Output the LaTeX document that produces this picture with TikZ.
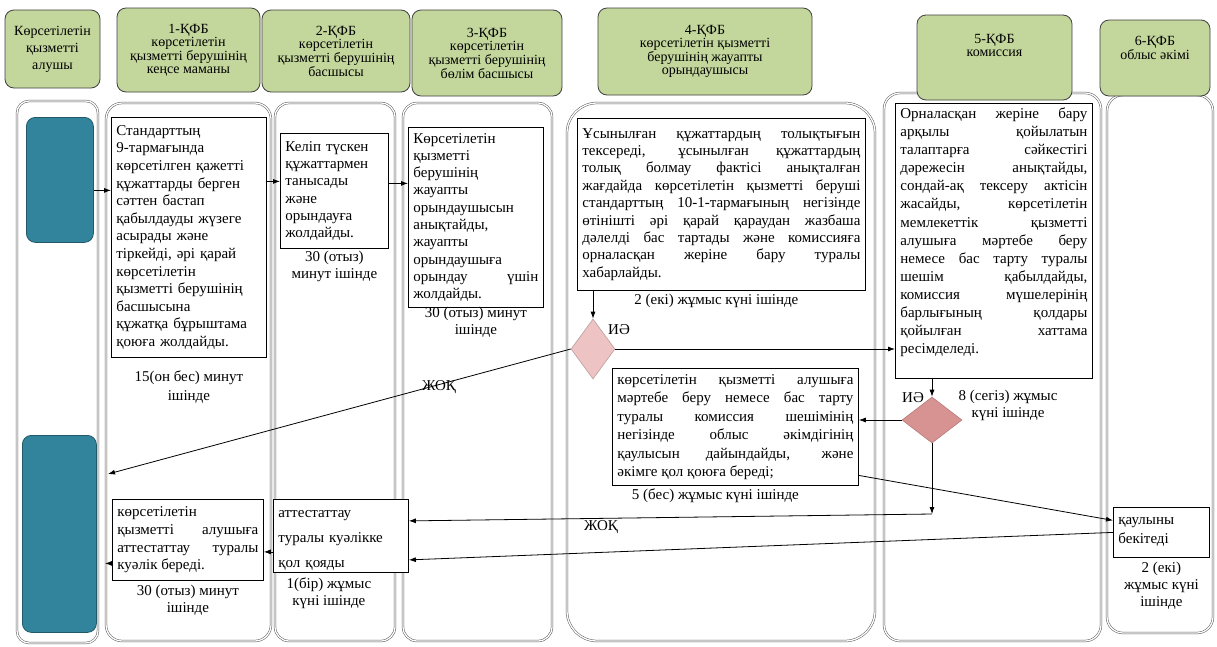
\documentclass[tikz,border=0pt]{standalone}
\usepackage{fontspec}
\setmainfont{Liberation Serif}
\usetikzlibrary{shapes.geometric,arrows.meta,positioning,calc}

\definecolor{hdrgreen}{HTML}{C3D69B}
\definecolor{tealbox}{HTML}{31849B}
\definecolor{tealedge}{HTML}{215967}
\definecolor{pinklight}{HTML}{EEC3C3}
\definecolor{pinkdark}{HTML}{D69392}
\definecolor{pinkedge}{HTML}{B97A7A}

\newcommand\hdrfont{\fontsize{14}{13}\selectfont}
\newcommand\notefont{\fontsize{15}{17}\selectfont}
\newcommand\boxfont[1]{\fontsize{15}{#1}\selectfont}

\tolerance=10000
\hyphenpenalty=10000
\exhyphenpenalty=10000

\begin{document}
\begin{tikzpicture}[
    x=1pt, y=-1pt,
    >={Latex[length=7pt,width=5pt]},
    node distance = 2pt and 4pt,
    % --- node styles ---
    hdr/.style = {rectangle, draw=black!75, line width=0.8pt, fill=hdrgreen,
                  rounded corners=9pt, align=center, font=\hdrfont,
                  inner sep=2pt},
    actor/.style = {rectangle, draw=tealedge, line width=0.8pt, fill=tealbox,
                    rounded corners=9pt, anchor=north west},
    txtbox/.style = {rectangle, draw=black, line width=0.8pt, fill=white,
                     anchor=north west, inner xsep=5pt, inner ysep=3pt},
    jbox/.style = {txtbox, align=justify},
    lbox/.style = {txtbox, align=left},
    note/.style = {align=center, font=\notefont, inner sep=0pt},
    decide/.style = {diamond, line width=0.6pt, inner sep=0pt},
    arr/.style = {->, line width=0.8pt},
    lane/.style = {draw=black!65, line width=0.5pt, double=white,
                   double distance=1.3pt},
]

\fill[white] (0,0) rectangle (1217,646);
\useasboundingbox (0,0) rectangle (1217,646);

%============ SWIMLANES ============
\foreach \xa/\xb/\ya/\yb/\rad in {17/98/101/643/12, 106/271/103/641/16,
  275/395/103/641/14, 403/552/103/641/14, 567/875/103/641/30,
  884/1101/93/641/16, 1107/1213/95/633/16}
  \draw[lane, rounded corners=\rad pt] (\xa,\ya) rectangle (\xb,\yb);

%============ HEADERS ============
\node (h0) [hdr, font=\fontsize{14}{17}\selectfont,
            minimum width=95pt, minimum height=78pt] at (52.5,49)
  {Көрсетілетін\\қызметті\\алушы};
\node (h1) [hdr, minimum width=143pt, minimum height=84pt] at (188.5,50)
  {1-ҚФБ\\көрсетілетін\\қызметті берушінің\\кеңсе маманы};
\node (h2) [hdr, minimum width=148pt, minimum height=82pt] at (336,51)
  {2-ҚФБ\\көрсетілетін\\қызметті берушінің\\басшысы};
\node (h3) [hdr, minimum width=150pt, minimum height=86pt] at (487,53)
  {3-ҚФБ\\көрсетілетін\\қызметті берушінің\\бөлім басшысы};
\node (h4) [hdr, minimum width=214pt, minimum height=87pt] at (705,51.5)
  {4-ҚФБ\\көрсетілетін қызметті\\берушінің жауапты\\орындаушысы};
\node (h5) [hdr, minimum width=155pt, minimum height=85pt, text depth=24pt]
  at (994.5,57.5) {5-ҚФБ\\комиссия};
\node (h6) [hdr, minimum width=110pt, minimum height=76pt, text depth=20pt]
  at (1155,58) {6-ҚФБ\\облыс әкімі};

%============ SERVICE RECIPIENT ============
\node (t1) [actor, minimum width=67pt, minimum height=125pt] at (26,117) {};
\node (t2) [actor, minimum width=74pt, minimum height=197pt] at (22,435) {};

%============ PROCESS BOXES ============
\node (b1) [lbox, font=\boxfont{17.6}, text width=145pt, minimum height=240pt]
  at (111,117)
  {Стандарттың\\9-тармағында\\көрсетілген қажетті\\құжаттарды берген\\сәттен бастап\\қабылдауды жүзеге\\асырады және\\тіркейді, әрі қарай\\көрсетілетін\\қызметті берушінің\\басшысына\\құжатқа бұрыштама\\қоюға жолдайды.};

\node (b2) [lbox, font=\boxfont{17.3}, text width=98pt, minimum height=115pt]
  at (280,133)
  {Келіп түскен\\құжаттармен\\танысады\\және\\орындауға\\жолдайды.};

\node (b3) [jbox, font=\boxfont{17.3}, text width=125pt, minimum height=180pt]
  at (408,127)
  {Көрсетілетін\linebreak қызметті\linebreak берушінің\linebreak жауапты\linebreak орындаушысын\linebreak анықтайды,\linebreak жауапты\linebreak орындаушыға\linebreak орындау үшін\linebreak жолдайды.};

\node (b4) [jbox, font=\boxfont{17.4}, text width=278pt, minimum height=172pt]
  at (577,118)
  {Ұсынылған құжаттардың толықтығын\linebreak тексереді, ұсынылған құжаттардың\linebreak толық болмау фактісі анықталған\linebreak жағдайда көрсетілетін қызметті беруші\linebreak стандарттың 10-1-тармағының негізінде\linebreak өтінішті әрі қарай қараудан жазбаша\linebreak дәлелді бас тартады және комиссияға\linebreak орналасқан жеріне бару туралы\linebreak хабарлайды.};

\node (b5) [jbox, font=\boxfont{18.1}, text width=187pt,
            text height=12pt, text depth=257pt]
  at (895,103)
  {Орналасқан жеріне бару\linebreak арқылы қойылатын\linebreak талаптарға сәйкестігі\linebreak дәрежесін анықтайды,\linebreak сондай-ақ тексеру актісін\linebreak жасайды, көрсетілетін\linebreak мемлекеттік қызметті\linebreak алушыға мәртебе беру\linebreak немесе бас тарту туралы\linebreak шешім қабылдайды,\linebreak комиссия мүшелерінің\linebreak барлығының қолдары\linebreak қойылған хаттама\linebreak ресімделеді.};

\node (b4b) [jbox, font=\boxfont{18.5}, text width=236pt, minimum height=117pt]
  at (612,368)
  {көрсетілетін қызметті алушыға\linebreak мәртебе беру немесе бас тарту\linebreak туралы комиссия шешімінің\linebreak негізінде облыс әкімдігінің\linebreak қаулысын дайындайды, және\linebreak әкімге қол қоюға береді;};

\node (give) [jbox, font=\boxfont{17.7}, text width=141pt, minimum height=81pt]
  at (112,499)
  {көрсетілетін\linebreak қызметті алушыға\linebreak аттестаттау туралы\linebreak куәлік береді.};

\node (att) [lbox, font=\boxfont{25}, text width=125pt, inner ysep=2pt,
             text height=16pt, text depth=53pt]
  at (273,499)
  {аттестаттау\\туралы куәлікке\\қол қояды};

\node (qaul) [lbox, font=\boxfont{19}, text width=86pt, inner ysep=2pt,
              text height=15pt, text depth=31pt]
  at (1113,507)
  {қаулыны\\бекітеді};

%============ DECISIONS ============
\node (d4) [decide, draw=pinklight!80!black, fill=pinklight,
            minimum width=44pt, minimum height=60pt] at (593,349) {};
\node (d5) [decide, draw=pinkedge, fill=pinkdark,
            minimum width=60pt, minimum height=46pt] at (932,420) {};

\coordinate (jokend) at (108,474);
\coordinate (d5bot) at (932,514);

%============ TIME NOTES ============
\node (n1) [note, below=13pt of b1, text depth=0pt] {15(он бес) минут\\[2pt]ішінде};
\node (n2) [note, below=2pt of b2] {30 (отыз)\\минут ішінде};
\node (n3) [note, below=-1pt of b3] {30 (отыз) минут\\ішінде};
\node (n4) [note, below=3pt of b4, xshift=-5pt] {2 (екі) жұмыс күні ішінде};
\node (n5) [note] at (1008,405) {8 (сегіз) жұмыс\\күні ішінде};
\node (n6) [note, below=3pt of b4b, xshift=-20pt] {5 (бес) жұмыс күні ішінде};
\node (n7) [note, below=4pt of give] {30 (отыз) минут\\ішінде};
\node (n8) [note, below=5pt of att, xshift=-12pt] {1(бір) жұмыс\\күні ішінде};
\node (n9) [note, below=4pt of qaul] {2 (екі)\\жұмыс күні\\ішінде};

\node (yes4) [note] at (619,330) {ИӘ};
\node (yes5) [note] at (913,398) {ИӘ};
\node (no4)  [note] at (439,387) {ЖОҚ};
\node (no5)  [note] at (601,527) {ЖОҚ};

%============ ARROWS ============
\draw[arr] ([yshift=-10.5pt]t1.east) -- ([yshift=-10.5pt]t1.east -| b1.west);
\draw[arr] ([yshift=9.5pt]b2.west -| b1.east) -- ([yshift=9.5pt]b2.west);
\draw[arr] ([yshift=7.5pt]b2.east) -- ([yshift=7.5pt]b2.east -| b3.west);
\draw[arr] (b4.south -| d4.north) -- (d4.north);
\draw[arr] (d4.east) -- (d4.east -| b5.west);
\draw[arr] (d4.west) -- (jokend);
\draw[arr] (b5.south -| d5.north) -- (d5.north);
\draw[arr] (d5.west) -- (d5.west -| b4b.east);
\draw[arr] (d5.south) -- (d5bot);
\draw[arr] (d5bot) -- ([yshift=15pt]att.east);
\draw[arr] ([yshift=-48.5pt]b4b.east) -- ([yshift=12pt]qaul.west);
\draw[arr] (qaul.west) -- ([yshift=-24pt]att.east);
\draw[arr] ([yshift=-16pt]att.west) -- ([yshift=-16pt]att.west -| give.east);
\draw[arr] ([yshift=-23.5pt]give.west) -- ++(-7,0);

\end{tikzpicture}
\end{document}
